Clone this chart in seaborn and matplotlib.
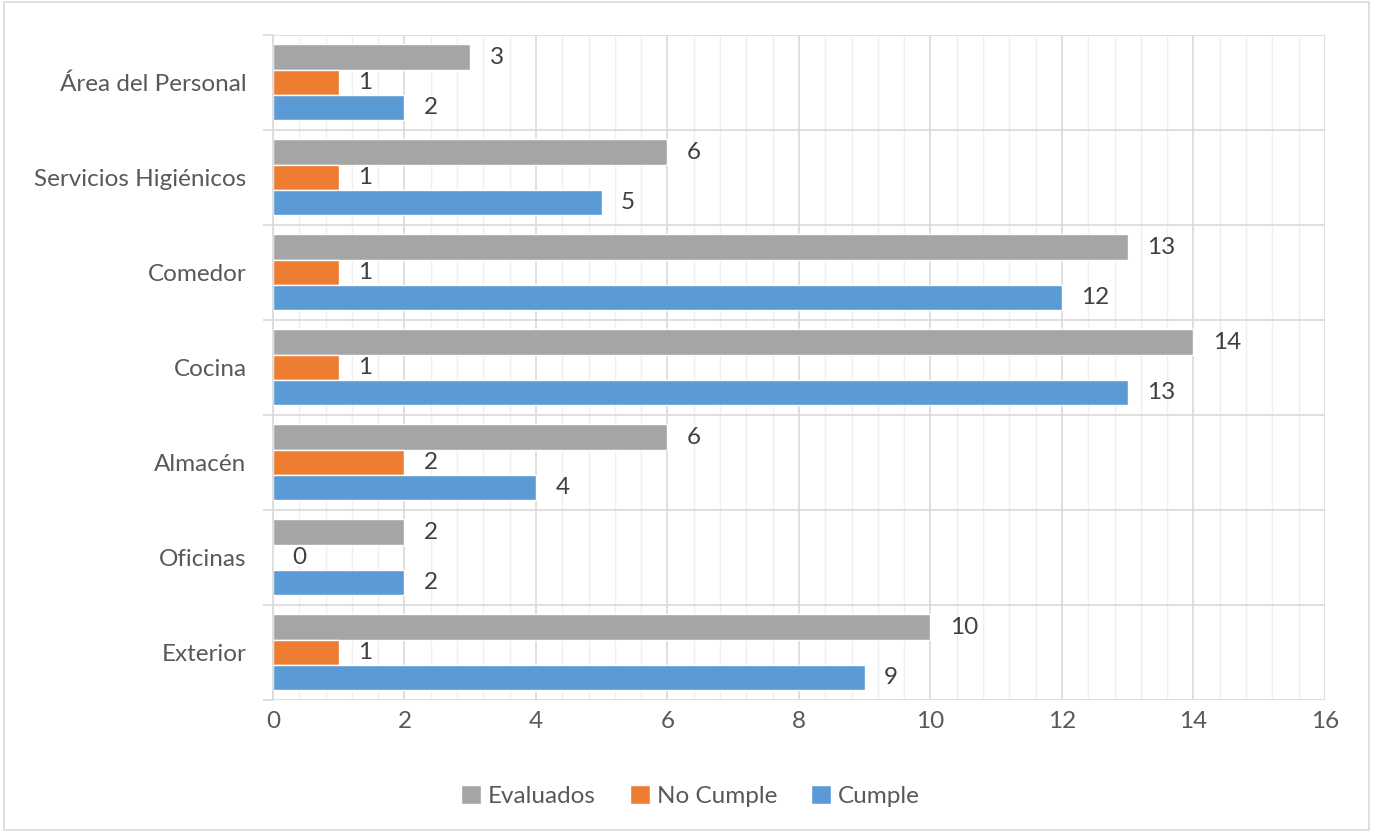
import matplotlib
matplotlib.use("Agg")
import matplotlib.pyplot as plt
from matplotlib.patches import Rectangle
from matplotlib.ticker import MultipleLocator, FixedLocator
import pandas as pd
import seaborn as sns

areas = ["Área del Personal", "Servicios Higiénicos", "Comedor", "Cocina",
         "Almacén", "Oficinas", "Exterior"]
evaluados = [3, 6, 13, 14, 6, 2, 10]
no_cumple = [1, 1, 1, 1, 2, 0, 1]
cumple = [2, 5, 12, 13, 4, 2, 9]

series = ["Evaluados", "No Cumple", "Cumple"]
colors = {"Evaluados": "#A5A5A5", "No Cumple": "#ED7D31", "Cumple": "#5B9BD5"}

df = pd.DataFrame({
    "Area": areas * 3,
    "Serie": [s for s in series for _ in areas],
    "Valor": evaluados + no_cumple + cumple,
})

sns.set_theme(style="white")
plt.rcParams['font.family'] = ['Lato', 'DejaVu Sans']

fig = plt.figure(figsize=(13.73, 8.32), dpi=100)
ax = fig.add_axes([0.1988, 0.1587, 0.7662, 0.7993])

sns.barplot(data=df, y="Area", x="Valor", hue="Serie", order=areas,
            hue_order=series, palette=colors, orient="h", width=0.8,
            saturation=1, ax=ax, legend=True)

text_color = "#404040"
fs = 17.5
for cont in ax.containers:
    ax.bar_label(cont, labels=[f"{int(v)}" for v in cont.datavalues],
                 padding=14, fontsize=fs, color=text_color)

ax.set_xlim(0, 16)
ax.set_ylim(6.5, -0.5)
ax.xaxis.set_major_locator(MultipleLocator(2))
ax.xaxis.set_minor_locator(MultipleLocator(0.4))
ax.yaxis.set_minor_locator(FixedLocator([i - 0.5 for i in range(8)]))
ax.grid(which="major", axis="x", color="#D9D9D9", linewidth=1.2)
ax.grid(which="minor", axis="x", color="#EFEFEF", linewidth=1.0)
ax.grid(which="minor", axis="y", color="#D9D9D9", linewidth=1.2)
ax.set_axisbelow(True)

for side in ["top", "right", "bottom"]:
    ax.spines[side].set_visible(False)
ax.spines["left"].set_color("#D9D9D9")
ax.spines["left"].set_linewidth(1.2)

ax.tick_params(axis="y", which="major", length=0, pad=19, labelsize=fs,
               labelcolor="#595959")
ax.tick_params(axis="y", which="minor", length=7, color="#D9D9D9", width=1.2,
               direction="out", left=True)
ax.tick_params(axis="x", which="both", length=0, pad=8, labelsize=fs,
               labelcolor="#595959")
ax.set_xlabel("")
ax.set_ylabel("")

handles, labels = ax.get_legend_handles_labels()
ax.get_legend().remove()
fig.legend(handles, labels, loc="center", bbox_to_anchor=(0.503, 0.043),
           ncol=3, frameon=False, fontsize=fs, handlelength=0.8, handleheight=0.8,
           handletextpad=0.3, columnspacing=1.4, labelcolor="#595959")

fig.patches.append(Rectangle((0.003, 0.003), 0.994, 0.994, transform=fig.transFigure,
                             fill=False, edgecolor="#D9D9D9", linewidth=1.2))

fig.savefig("out.png", dpi=100)
